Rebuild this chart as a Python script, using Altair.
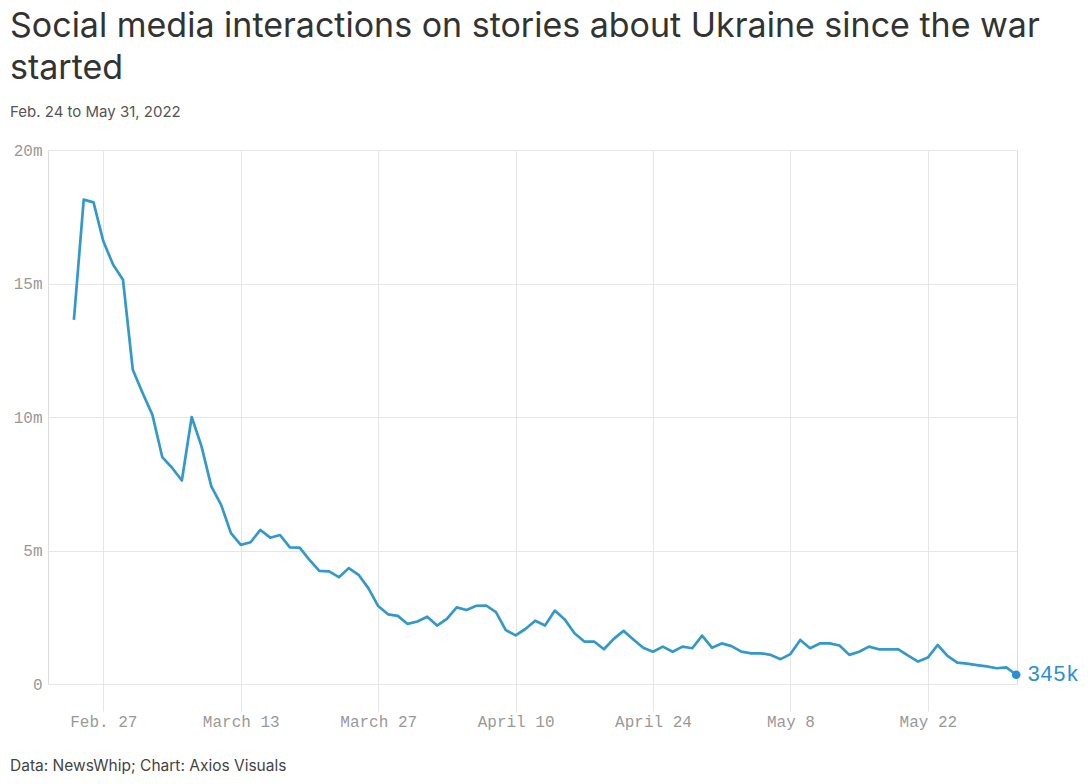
import altair as alt
import pandas as pd

TITLE = ["Social media interactions on stories about Ukraine since the war", "started"]
SUBTITLE = "Feb. 24 to May 31, 2022"
FOOTER = "Data: NewsWhip; Chart: Axios Visuals"

start_date = "2022-02-24"
# daily social media interactions, millions (Feb 24 .. May 31, 2022)
values = [
    13.64, 18.14, 18.04, 16.58, 15.70, 15.14, 11.77, 10.90, 10.08, 8.50,
    8.10, 7.62, 10.00, 8.90, 7.40, 6.71, 5.65, 5.21, 5.31, 5.77,
    5.48, 5.58, 5.12, 5.11, 4.65, 4.24, 4.22, 4.00, 4.34, 4.09,
    3.59, 2.92, 2.61, 2.55, 2.25, 2.34, 2.52, 2.19, 2.44, 2.87,
    2.77, 2.93, 2.94, 2.69, 2.02, 1.82, 2.06, 2.37, 2.19, 2.75,
    2.42, 1.90, 1.59, 1.59, 1.30, 1.69, 1.99, 1.67, 1.36, 1.21,
    1.40, 1.21, 1.40, 1.34, 1.81, 1.36, 1.52, 1.42, 1.21, 1.15,
    1.15, 1.09, 0.93, 1.12, 1.65, 1.34, 1.52, 1.52, 1.44, 1.09,
    1.21, 1.40, 1.30, 1.30, 1.30, 1.06, 0.84, 0.99, 1.46, 1.05,
    0.80, 0.76, 0.71, 0.66, 0.59, 0.62, 0.345,
]
last_label = "345k"

tick_dates = ["2022-02-27", "2022-03-13", "2022-03-27", "2022-04-10",
              "2022-04-24", "2022-05-08", "2022-05-22"]
tick_labels = ["Feb. 27", "March 13", "March 27", "April 10",
               "April 24", "May 8", "May 22"]
y_ticks = [0, 5, 10, 15, 20]

dates = pd.date_range(start_date, periods=len(values), freq="D")
df = pd.DataFrame({"date": dates.strftime("%Y-%m-%d"), "value": values})
last = df.tail(1).assign(label=last_label)

def ms(s):
    return int(pd.Timestamp(s, tz="UTC").value // 10**6)

domain = [ms("2022-02-21T08:40:00"), ms("2022-05-31T02:00:00")]
tick_ms = [ms(d) for d in tick_dates]
label_expr = "[" + ",".join(f"'{l}'" for l in tick_labels) + "][indexof([" + \
    ",".join(f"'{d}'" for d in tick_dates) + "], utcFormat(datum.value, '%Y-%m-%d'))]"

MONO = "Liberation Mono"
SANS = "Inter"
GRID = "#e6e6e6"
BLUE = "#3399cc"
DOT = "#2a90d6"
LABEL = "#999999"

x = alt.X("date:T", scale=alt.Scale(type="utc", domain=domain),
          axis=alt.Axis(values=tick_ms, labelExpr=label_expr, title=None,
                        grid=True, gridColor=GRID, domain=False,
                        ticks=True, tickColor=GRID, tickSize=27,
                        labelPadding=2, labelFont=MONO, labelFontSize=16,
                        labelColor=LABEL, labelAlign="center"))
y = alt.Y("value:Q", scale=alt.Scale(domain=[0, 20], nice=False),
          axis=alt.Axis(values=y_ticks, title=None, grid=True, gridColor=GRID,
                        domain=False, ticks=False, labelPadding=6,
                        labelExpr="datum.value == 0 ? '0' : datum.value + 'm'",
                        labelFont=MONO, labelFontSize=16, labelColor=LABEL))

line = alt.Chart(df).mark_line(color=BLUE, strokeWidth=2.7, strokeJoin="round").encode(x=x, y=y)
dot = alt.Chart(last).mark_circle(color=DOT, size=75, opacity=1).encode(x=x, y=y)
lab = alt.Chart(last).mark_text(align="left", baseline="middle", dx=11, dy=0,
                                font=MONO, fontSize=21.5, color=DOT).encode(x=x, y=y, text="label:N")
foot = alt.Chart(pd.DataFrame({"t": [FOOTER]})).mark_text(
    align="left", baseline="alphabetic", font=SANS, fontSize=15.5, color="#444444"
).encode(x=alt.value(-38), y=alt.value(621), text="t:N")

chart = alt.layer(line, dot, lab, foot).properties(
    width=969, height=534,
    autosize=alt.AutoSizeParams(type="none"),
    padding={"left": 40, "top": 142, "right": 63, "bottom": 92},
    title=alt.TitleParams(text=TITLE, subtitle=SUBTITLE, anchor="start", frame="group",
                          dx=-38, offset=22, font=SANS, fontSize=34, fontWeight=400,
                          color="#333333", lineHeight=42, subtitleFont=SANS,
                          subtitleFontSize=15, subtitleColor="#555555",
                          subtitlePadding=19),
).configure_view(stroke=None).configure(background="white")

chart.save("out.html", embed_options={"renderer": "svg", "actions": False})
